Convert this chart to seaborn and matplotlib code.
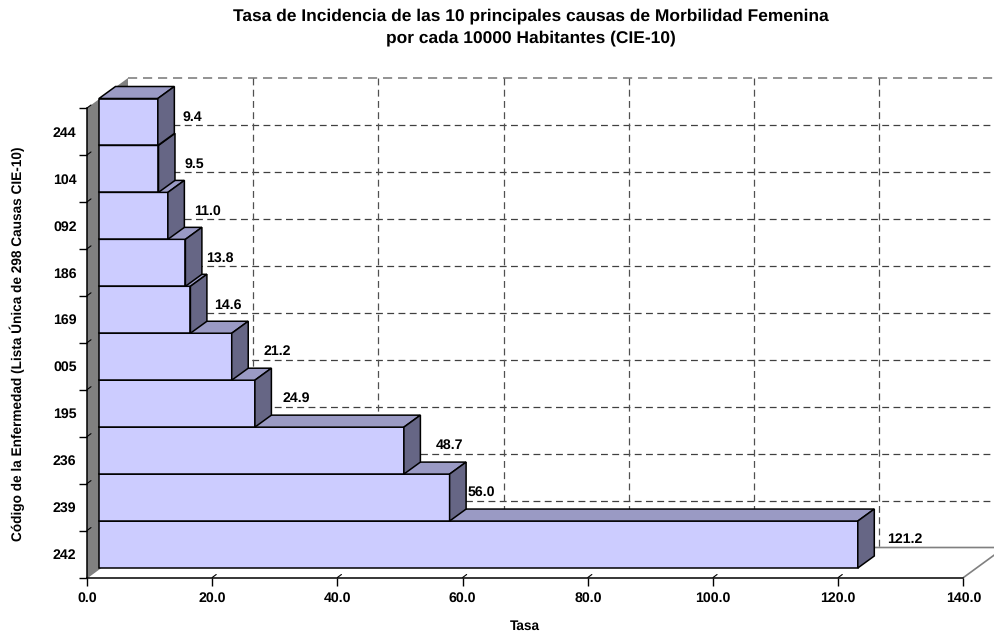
import matplotlib
matplotlib.use("Agg")
import matplotlib.pyplot as plt
import pandas as pd
import seaborn as sns
from matplotlib.patches import Polygon

# Chart data
codes = ["244", "104", "092", "186", "169", "005", "195", "236", "239", "242"]
tasa = [9.4, 9.5, 11.0, 13.8, 14.6, 21.2, 24.9, 48.7, 56.0, 121.2]
x_ticks = [0, 20, 40, 60, 80, 100, 120, 140]

# Pixel nudges for the value labels, the original has uneven placement
label_nudge = [25, 26, 26, 21, 24, 32, 28, 32, 18, 29]

W, H = 995, 631
LEFT, RIGHT, TOP, BOTTOM = 87, 963.5, 108, 577.5
FRONT, SIDE, ROOF = "#CCCCFF", "#666685", "#9A9AC4"

sns.set_theme(style="white")
plt.rcParams["font.family"] = ["Liberation Sans", "DejaVu Sans"]
plt.rcParams["font.weight"] = "bold"
plt.rcParams["text.color"] = "black"
plt.rcParams["text.hinting"] = "no_hinting"
plt.rcParams["xtick.labelcolor"] = "black"
plt.rcParams["ytick.labelcolor"] = "black"

fig = plt.figure(figsize=(W / 100, H / 100), dpi=100)
ax = fig.add_axes([LEFT / W, 1 - BOTTOM / H, (RIGHT - LEFT) / W, (BOTTOM - TOP) / H])
ax.patch.set_alpha(0)

df = pd.DataFrame({"codigo": codes, "tasa": tasa})
sns.barplot(data=df, x="tasa", y="codigo", order=codes, orient="h", width=1,
            color=FRONT, saturation=1, edgecolor="black", linewidth=1.1, ax=ax)

ax.set_xlim(x_ticks[0], x_ticks[-1])
ax.set_ylim(len(codes) - 0.5, -0.5)

# pixels to data units
px_x = x_ticks[-1] / (RIGHT - LEFT)
px_y = len(codes) / (BOTTOM - TOP)
wall_dx, wall_dy = 41 * px_x, -30 * px_y
bar_ox, bar_oy = 12 * px_x, -9.5 * px_y
bar_dx, bar_dy = 16.5 * px_x, -12 * px_y

y_edges = [i - 0.5 for i in range(len(codes) + 1)]
y0, y1 = y_edges[0], y_edges[-1]

# Left wall and floor
ax.add_patch(Polygon([(0, y0), (wall_dx, y0 + wall_dy), (wall_dx, y1 + wall_dy), (0, y1)],
                     fc="#808080", ec="none", zorder=0.5, clip_on=False))
back_x = [t + wall_dx for t in x_ticks]
ax.plot([0, wall_dx, back_x[-1], x_ticks[-1]], [y1, y1 + wall_dy, y1 + wall_dy, y1],
        color="#808080", lw=1.2, zorder=1, clip_on=False)

# Back wall grid
dash = (0, (5.5, 3.5))
ax.plot([wall_dx, back_x[-1]], [y0 + wall_dy] * 2, color="#808080", lw=1.2,
        ls=dash, zorder=1, clip_on=False)
for e in y_edges[1:-1]:
    ax.plot([wall_dx, back_x[-1]], [e + wall_dy] * 2, color="#404040", lw=0.9,
            ls=dash, zorder=1, clip_on=False)
for bx in back_x[1:]:
    ax.plot([bx, bx], [y0 + wall_dy, y1 + wall_dy], color="#505050", lw=0.9,
            ls=dash, zorder=1, clip_on=False)

# Turn the flat bars into boxes, lowest bar first so upper ones overlap it
for i, (p, val, nudge) in enumerate(zip(ax.patches, tasa, label_nudge)):
    p.set_x(p.get_x() + bar_ox)
    p.set_y(p.get_y() + bar_oy)
    p.set_clip_on(False)
    z = 3 + len(codes) - i
    p.set_zorder(z)
    xa, xb = p.get_x(), p.get_x() + p.get_width()
    ya, yb = p.get_y(), p.get_y() + p.get_height()
    ax.add_patch(Polygon([(xa, ya), (xb, ya), (xb + bar_dx, ya + bar_dy), (xa + bar_dx, ya + bar_dy)],
                         fc=ROOF, ec="black", lw=1.1, zorder=z, clip_on=False))
    ax.add_patch(Polygon([(xb, ya), (xb, yb), (xb + bar_dx, yb + bar_dy), (xb + bar_dx, ya + bar_dy)],
                         fc=SIDE, ec="black", lw=1.1, zorder=z, clip_on=False))
    ax.text(xb + nudge * px_x, i + 0.5 + wall_dy - 8 * px_y, f"{val:.1f}", fontsize=10.2,
            ha="left", va="center", color="black", zorder=20)

# Axes, the little slanted tick tails run onto the wall and floor
for s in ["top", "right"]:
    ax.spines[s].set_visible(False)
for s in ["left", "bottom"]:
    ax.spines[s].set_color("black")
    ax.spines[s].set_linewidth(1.1)
    ax.spines[s].set_zorder(2)

ax.set_xticks(x_ticks)
ax.set_xticklabels([f"{t:.1f}" for t in x_ticks], fontsize=10.2)
ax.set_yticks(range(len(codes)))
ax.set_yticklabels(codes, fontsize=10.2)
ax.set_yticks(y_edges, minor=True)
ax.tick_params(axis="y", which="major", length=0, pad=7.5, left=False)
ax.tick_params(axis="y", which="minor", length=6, width=1, color="black", left=True)
ax.tick_params(axis="x", which="major", length=6, width=1, color="black", bottom=True, pad=4.5)

tail_dx, tail_dy = 4 * px_x, -3 * px_y
for e in y_edges[:-1]:
    ax.plot([0, tail_dx], [e, e + tail_dy], color="black", lw=0.8, zorder=2, clip_on=False)
for t in x_ticks[1:-1]:
    ax.plot([t, t + tail_dx], [y1, y1 + tail_dy], color="black", lw=0.8, zorder=2, clip_on=False)

ax.set_xlabel("")
ax.set_ylabel("")
fig.text(525 / W, 1 - 626 / H, "Tasa", fontsize=9.8, ha="center", va="center")
fig.text(17 / W, 1 - 344 / H, "Código de la Enfermedad (Lista Única de 298 Causas CIE-10)",
         fontsize=9.8, rotation=90, ha="center", va="center")
fig.text(531 / W, 1 - 27 / H,
         "Tasa de Incidencia de las 10 principales causas de Morbilidad Femenina\n"
         "por cada 10000 Habitantes (CIE-10)",
         fontsize=12.5, ha="center", va="center", linespacing=1.45)

fig.savefig("out.png", dpi=100, facecolor="white")
